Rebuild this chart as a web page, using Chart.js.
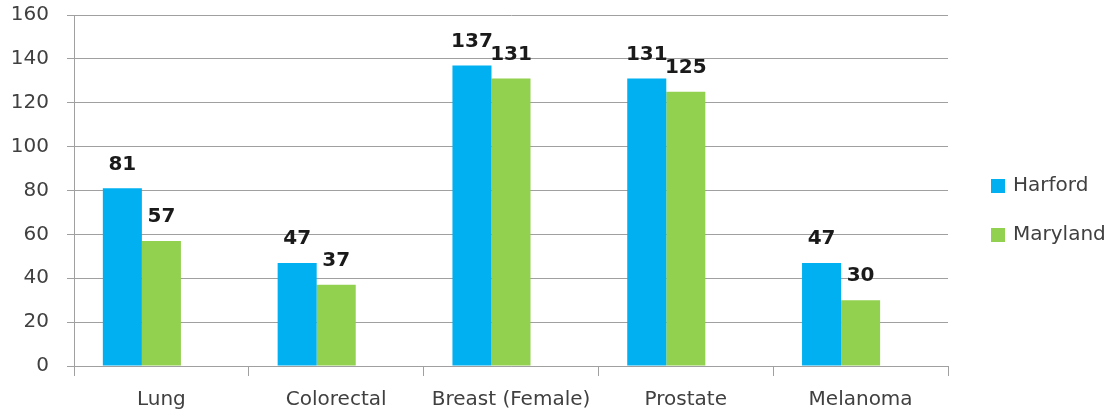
<!DOCTYPE html>
<html>
<head>
<meta charset="utf-8">
<script src="https://cdn.jsdelivr.net/npm/chart.js@4.4.0/dist/chart.umd.min.js"></script>
<style>
  html, body { margin: 0; padding: 0; background: #fff; }
  #wrap { width: 1120px; height: 415px; position: relative; }
</style>
</head>
<body>
<div id="wrap"><canvas id="myChart"></canvas></div>
<script>
var categories = ['Lung', 'Colorectal', 'Breast (Female)', 'Prostate', 'Melanoma'];
var harford = [81, 47, 137, 131, 47];
var maryland = [57, 37, 131, 125, 30];
// excel chart had an empty third series, keeps the bars left of centre
var emptySeries = [null, null, null, null, null];
var seriesNames = ['Harford', 'Maryland'];
var seriesColors = ['#00b0f0', '#92d050'];

var gridColor = '#a0a0a0';
var textColor = '#404040';

Chart.defaults.font.family = '"DejaVu Sans", sans-serif';
Chart.defaults.font.size = 20;
Chart.defaults.color = textColor;

// value labels over the bars
var valueLabels = {
    id: 'valueLabels',
    afterDatasetsDraw: function(chart) {
        var ctx = chart.ctx;
        ctx.save();
        ctx.font = 'bold 20px "DejaVu Sans", sans-serif';
        ctx.fillStyle = '#1a1a1a';
        ctx.textAlign = 'center';
        ctx.textBaseline = 'middle';
        for (var d = 0; d < 2; d++) {
            var meta = chart.getDatasetMeta(d);
            meta.data.forEach(function(bar, i) {
                var v = chart.data.datasets[d].data[i];
                if (v == null) return;
                ctx.fillText(String(v), bar.x, bar.y - 24);
            });
        }
        ctx.restore();
    }
};

// legend on the right, like the excel one
var sideLegend = {
    id: 'sideLegend',
    afterDraw: function(chart) {
        var ctx = chart.ctx;
        ctx.save();
        ctx.font = '20px "DejaVu Sans", sans-serif';
        ctx.textBaseline = 'middle';
        ctx.textAlign = 'left';
        var ys = [186, 235];
        for (var i = 0; i < 2; i++) {
            var ds = chart.data.datasets[i];
            ctx.fillStyle = ds.backgroundColor;
            ctx.fillRect(991, ys[i] - 7, 14, 14);
            ctx.fillStyle = textColor;
            ctx.fillText(ds.label, 1013, ys[i]);
        }
        ctx.restore();
    }
};

var ctx = document.getElementById('myChart').getContext('2d');
var chart = new Chart(ctx, {
    type: 'bar',
    data: {
        labels: categories,
        datasets: [
            { label: seriesNames[0], data: harford, backgroundColor: seriesColors[0] },
            { label: seriesNames[1], data: maryland, backgroundColor: seriesColors[1] },
            { label: '', data: emptySeries, backgroundColor: 'rgba(0,0,0,0)' }
        ]
    },
    options: {
        responsive: true,
        maintainAspectRatio: false,
        animation: false,
        datasets: {
            bar: { categoryPercentage: 0.67, barPercentage: 1.0 }
        },
        layout: { padding: { top: 15, right: 172, bottom: 0, left: 0 } },
        plugins: {
            legend: { display: false },
            tooltip: { enabled: false }
        },
        scales: {
            x: {
                grid: {
                    display: true,
                    drawOnChartArea: false,
                    color: gridColor,
                    tickLength: 10,
                    offset: true
                },
                border: { color: gridColor },
                ticks: { padding: 12, color: textColor, maxRotation: 0 },
                afterFit: function(scale) {
                    scale.height = 49;
                    scale.paddingLeft = 0;
                    scale.paddingRight = 0;
                }
            },
            y: {
                min: 0,
                max: 160,
                ticks: { stepSize: 20, padding: 18, color: textColor },
                grid: { color: gridColor, tickLength: 7 },
                border: { color: gridColor },
                afterFit: function(scale) {
                    scale.width = 74;
                    scale.paddingTop = 0;
                    scale.paddingBottom = 0;
                }
            }
        }
    },
    plugins: [valueLabels, sideLegend]
});
</script>
</body>
</html>
